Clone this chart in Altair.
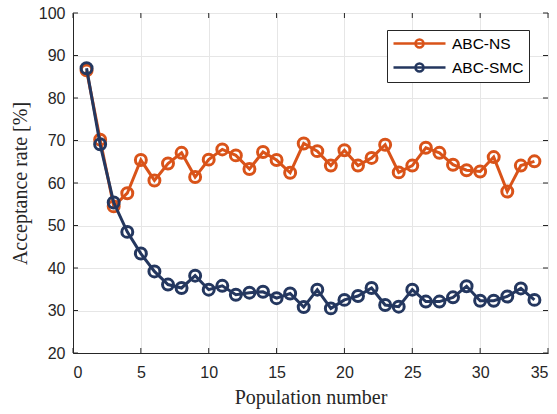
import altair as alt
import pandas as pd

# Acceptance rate per population for the two samplers
population = list(range(1, 35))
abc_ns = [86.5, 70.2, 54.5, 57.6, 65.4, 60.6, 64.6, 67.1, 61.4, 65.5,
          67.9, 66.5, 63.3, 67.3, 65.4, 62.4, 69.3, 67.5, 64.1, 67.7,
          64.1, 65.9, 69.0, 62.5, 64.1, 68.3, 67.1, 64.3, 63.0, 62.7,
          66.1, 58.0, 64.1, 65.1]
abc_smc = [87.0, 69.1, 55.4, 48.5, 43.4, 39.2, 36.1, 35.3, 38.2, 34.9,
           35.8, 33.7, 34.2, 34.4, 32.9, 34.0, 30.8, 34.9, 30.5, 32.5,
           33.4, 35.3, 31.3, 30.9, 34.9, 32.1, 32.1, 33.1, 35.7, 32.3,
           32.3, 33.3, 35.2, 32.5]

series_names = ["ABC-NS", "ABC-SMC"]
series_colors = ["#D95319", "#24375F"]
x_ticks = [0, 5, 10, 15, 20, 25, 30, 35]
y_ticks = [20, 30, 40, 50, 60, 70, 80, 90, 100]

df = pd.concat([
    pd.DataFrame({"population": population, "rate": abc_ns, "series": series_names[0]}),
    pd.DataFrame({"population": population, "rate": abc_smc, "series": series_names[1]}),
])

W, H = 475, 340
AX = "#262626"
GRID = "#e6e6e6"

x_enc = alt.X(
    "population:Q",
    scale=alt.Scale(domain=[0, 35], nice=False, zero=False),
    axis=alt.Axis(
        values=x_ticks, format="d", grid=True, gridColor=GRID, ticks=False,
        labelPadding=11, labelFont="Liberation Sans", labelFontSize=16,
        labelColor=AX, domainColor=AX, title="Population number",
        titleFont="Liberation Serif", titleFontSize=20, titleFontWeight="normal",
        titleColor=AX, titlePadding=7,
    ),
)
y_enc = alt.Y(
    "rate:Q",
    scale=alt.Scale(domain=[20, 100], nice=False, zero=False),
    axis=alt.Axis(
        values=y_ticks, format="d", grid=True, gridColor=GRID, ticks=False,
        labelPadding=8, labelFont="Liberation Sans", labelFontSize=16,
        labelColor=AX, domainColor=AX, title="Acceptance rate [%]",
        titleFont="Liberation Serif", titleFontSize=20, titleFontWeight="normal",
        titleColor=AX, titlePadding=8,
    ),
)

# Legend symbol: a long horizontal line with an open circle at its middle.
# The path is drawn in units of sqrt(size)/2 = 7 px and extends to the right
# of the nominal symbol box, so the label offset makes room for it.
u = 7.0
line_len = 52.0
x0, x1 = -1.0, -1.0 + line_len / u
cx = (x0 + x1) / 2
r = 4.0 / u
legend_path = (
    f"M{x0:.3f},0H{x1:.3f}"
    f"M{cx - r:.3f},0A{r:.3f},{r:.3f},0,1,1,{cx + r:.3f},0"
    f"A{r:.3f},{r:.3f},0,1,1,{cx - r:.3f},0"
)
color_enc = alt.Color(
    "series:N",
    scale=alt.Scale(domain=series_names, range=series_colors),
    legend=alt.Legend(
        title=None, orient="none", legendX=314, legendY=17,
        direction="vertical", strokeColor=AX, fillColor="white",
        padding=5, cornerRadius=0, labelFont="Liberation Sans",
        labelFontSize=15.5, labelColor="#000000", labelOffset=43,
        symbolType=legend_path, symbolSize=(2 * u) ** 2, symbolStrokeWidth=2.5,
        symbolFillColor="transparent", rowPadding=5,
    ),
)


def series_layers(name):
    base = alt.Chart(df).transform_filter(alt.datum.series == name).encode(
        x=x_enc, y=y_enc, color=color_enc
    )
    return [
        base.mark_line(strokeWidth=3),
        base.mark_point(filled=False, size=120, strokeWidth=3, opacity=1),
    ]


# inward tick marks on all four sides
xt = pd.DataFrame({"population": x_ticks})
yt = pd.DataFrame({"rate": y_ticks})
tick_style = dict(color=AX, strokeWidth=1)
ticks = [
    alt.Chart(xt).mark_rule(**tick_style).encode(x=x_enc, y=alt.value(H), y2=alt.value(H - 5)),
    alt.Chart(xt).mark_rule(**tick_style).encode(x=x_enc, y=alt.value(0), y2=alt.value(5)),
    alt.Chart(yt).mark_rule(**tick_style).encode(y=y_enc, x=alt.value(0), x2=alt.value(5)),
    alt.Chart(yt).mark_rule(**tick_style).encode(y=y_enc, x=alt.value(W - 5), x2=alt.value(W)),
]

chart = alt.layer(
    *ticks, *series_layers(series_names[0]), *series_layers(series_names[1])
).properties(
    width=W, height=H,
    autosize=alt.AutoSizeParams(type="none"),
    padding={"left": 73, "top": 13, "right": 9, "bottom": 61},
    background="white",
).configure_view(stroke=AX, strokeWidth=1)

chart.save("out.html", embed_options={"renderer": "svg", "actions": False})
